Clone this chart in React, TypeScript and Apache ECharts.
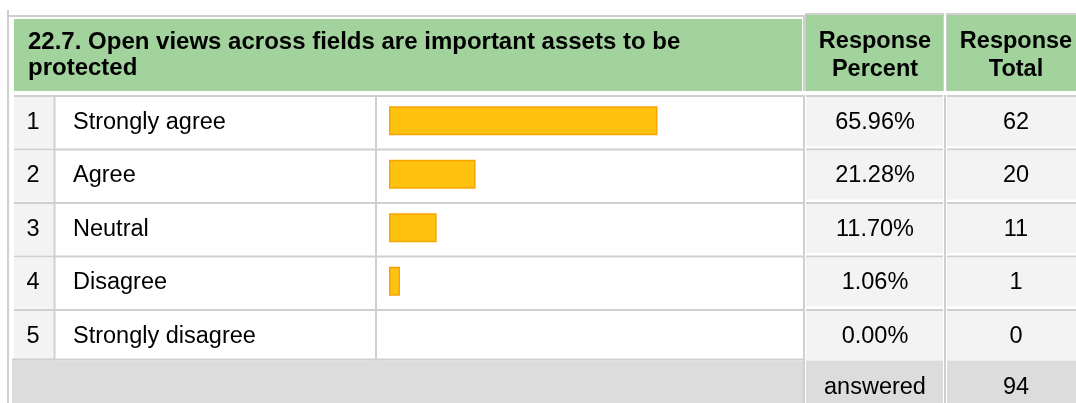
import React, { useEffect, useRef } from "react";
import * as echarts from "echarts";

const title = "22.7. Open views across fields are important assets to be\nprotected";
const headerPercent = "Response\nPercent";
const headerTotal = "Response\nTotal";
const rowNumbers = ["1", "2", "3", "4", "5"];
const categories = ["Strongly agree", "Agree", "Neutral", "Disagree", "Strongly disagree"];
const percents = [65.96, 21.28, 11.7, 1.06, 0.0];
const totals = [62, 20, 11, 1, 0];
const answeredLabel = "answered";
const answeredTotal = 94;

const FONT = "'Liberation Sans', Arial, Helvetica, sans-serif";
const FS = 23.5;
const GREEN = "#a2d39c";
const LINE = "#cfcfcf";
const CELL = "#f3f3f3";
const FOOT = "#dcdcdc";

const ROW_TOP = 96;
const ROW_H = 53.5;

function rect(x: number, y: number, w: number, h: number, fill: string, z = 0) {
  return { type: "rect", shape: { x, y, width: w, height: h }, style: { fill }, z, silent: true };
}

export default function App() {
  const ref = useRef<HTMLDivElement>(null);
  useEffect(() => {
    if (!ref.current) return;
    const chart = echarts.init(ref.current, undefined, { renderer: "svg" });

    const g: any[] = [];
    // outer left border & top line
    g.push(rect(7, 10, 2, 393, LINE));
    g.push(rect(7, 15, 798, 2, LINE));
    // header cells
    g.push(rect(14, 19, 788, 72, GREEN));
    g.push(rect(803, 17, 2, 74, LINE));
    g.push(rect(805, 13, 139, 78, LINE));
    g.push(rect(806, 15, 137, 76, GREEN));
    g.push(rect(946, 13, 130, 78, LINE));
    g.push(rect(947, 15, 129, 76, GREEN));
    g.push({
      type: "text", x: 28, y: 27.5, silent: true,
      style: { text: title, font: `bold 24px ${FONT}`, fill: "#000", lineHeight: 26, verticalAlign: "top", align: "left" },
    });
    g.push({
      type: "text", x: 875, y: 26.5, silent: true,
      style: { text: headerPercent, font: `bold ${FS}px ${FONT}`, fill: "#000", lineHeight: 27.5, verticalAlign: "top", align: "center" },
    });
    g.push({
      type: "text", x: 1016, y: 26.5, silent: true,
      style: { text: headerTotal, font: `bold ${FS}px ${FONT}`, fill: "#000", lineHeight: 27.5, verticalAlign: "top", align: "center" },
    });

    // body rows
    categories.forEach((_, i) => {
      const t = ROW_TOP + i * ROW_H;
      g.push(rect(14, t - 1, 790, 2, LINE));
      g.push(rect(14, t + 1, 39.5, ROW_H - 2.5, CELL));
      g.push(rect(53.5, t - 1, 2, ROW_H, LINE));
      g.push(rect(375, t - 1, 2, ROW_H, LINE));
      g.push(rect(803, t - 1, 2, ROW_H, LINE));
      g.push(rect(806, t - 1, 137, 2, LINE));
      g.push(rect(806, t + 1, 137, ROW_H - 4.5, CELL));
      g.push(rect(944, t - 1, 2, ROW_H, LINE));
      g.push(rect(947, t - 1, 129, 2, LINE));
      g.push(rect(947, t + 1, 129, ROW_H - 4.5, CELL));
    });

    // footer
    g.push(rect(12, 358.5, 792, 2, LINE));
    g.push(rect(12, 360.5, 791, 43, FOOT));
    g.push(rect(803, 358.5, 2, 45, LINE));
    g.push(rect(806, 360.5, 137, 43, FOOT));
    g.push(rect(944, 358.5, 2, 45, LINE));
    g.push(rect(947, 360.5, 129, 43, FOOT));
    g.push({
      type: "text", x: 875, y: 385.5, silent: true,
      style: { text: answeredLabel, font: `${FS}px ${FONT}`, fill: "#000", verticalAlign: "middle", align: "center" },
    });
    g.push({
      type: "text", x: 1016, y: 385.5, silent: true,
      style: { text: String(answeredTotal), font: `${FS}px ${FONT}`, fill: "#000", verticalAlign: "middle", align: "center" },
    });

    const labelBase = { fontFamily: FONT, fontSize: FS, color: "#000" };
    const hiddenAxis = { axisLine: { show: false }, axisTick: { show: false }, splitLine: { show: false } };

    chart.setOption({
      animation: false,
      graphic: { elements: g },
      grid: { left: 389, top: 94, width: 407, height: ROW_H * 5 },
      xAxis: { type: "value", min: 0, max: 100, show: false },
      yAxis: [
        {
          type: "category", data: categories, inverse: true, position: "left", ...hiddenAxis,
          axisLabel: { ...labelBase, align: "left", margin: 389 - 73 },
        },
        {
          type: "category", data: rowNumbers, inverse: true, position: "left", ...hiddenAxis,
          axisLabel: { ...labelBase, align: "center", margin: 389 - 33 },
        },
        {
          type: "category", data: percents.map((v) => v.toFixed(2) + "%"), inverse: true, position: "right", ...hiddenAxis,
          axisLabel: { ...labelBase, align: "center", margin: 875 - 796 },
        },
        {
          type: "category", data: totals.map(String), inverse: true, position: "right", ...hiddenAxis,
          axisLabel: { ...labelBase, align: "center", margin: 1016 - 796 },
        },
      ],
      series: [
        {
          type: "bar",
          yAxisIndex: 0,
          data: percents.map((v) => (v > 0 ? v : { value: v, itemStyle: { opacity: 0 } })),
          barWidth: 29,
          barMinHeight: 11,
          itemStyle: { color: "#ffc20e", borderColor: "#f7a400", borderWidth: 1.5 },
          z: 5,
        },
      ],
    });
    return () => chart.dispose();
  }, []);
  return <div ref={ref} style={{ position: "fixed", left: 0, top: 0, width: 1076, height: 403 }} />;
}
